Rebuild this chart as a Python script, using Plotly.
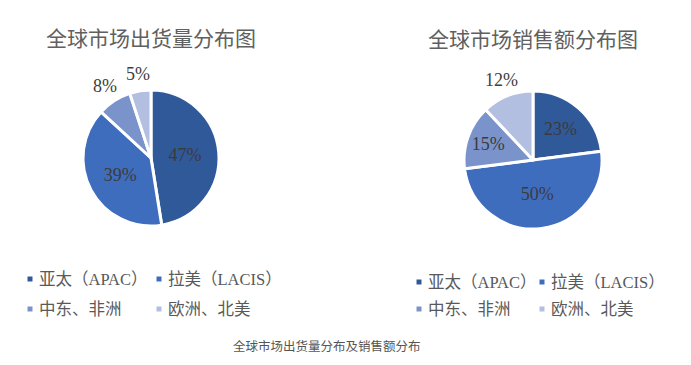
import math
import plotly.graph_objects as go

# page body has an 8px default margin, so the figure is drawn at (8, 8)
OFF = 8
W, H = 691 - OFF, 365 - OFF

categories = ["亚太（APAC）", "拉美（LACIS）", "中东、非洲", "欧洲、北美"]
shipment_share = [47, 39, 8, 5]
sales_share = [23, 50, 15, 12]
colors = ["#30599A", "#3F6DBE", "#7A93CB", "#B2BFE1"]
title_left = "全球市场出货量分布图"
title_right = "全球市场销售额分布图"
caption = "全球市场出货量分布及销售额分布"

SERIF = "Liberation Serif, Noto Sans CJK SC, serif"
CJK = "Noto Sans CJK SC, sans-serif"


def px(x):
    return (x - OFF) / W


def py(y):
    return 1 - (y - OFF) / H


def pie_domain(cx, cy, r):
    return dict(x=[px(cx - r), px(cx + r)], y=[py(cy + r), py(cy - r)])


pies = [
    dict(values=shipment_share, cx=151, cy=158, r=68,
         pos=["inside", "inside", "none", "none"]),
    dict(values=sales_share, cx=533, cy=160, r=69,
         pos=["inside", "inside", "inside", "none"]),
]

fig = go.Figure()
annotations = []
shapes = []

for p in pies:
    fig.add_trace(go.Pie(
        labels=categories, values=p["values"],
        domain=pie_domain(p["cx"], p["cy"], p["r"]),
        sort=False, direction="clockwise", rotation=0,
        marker=dict(colors=colors, line=dict(color="white", width=3)),
        texttemplate="%{value}%",
        textposition=p["pos"],
        insidetextorientation="horizontal",
        insidetextfont=dict(family=SERIF, size=18, color="#3B3B3B"),
        showlegend=False, hoverinfo="skip",
    ))
    # outside labels for the small slices, placed at each slice's mid-angle
    total = sum(p["values"])
    cum = 0
    for v, pos in zip(p["values"], p["pos"]):
        mid = (cum + v / 2) / total * 2 * math.pi
        cum += v
        if pos != "none":
            continue
        R = p["r"] + 17
        lx = p["cx"] + R * math.sin(mid)
        ly = p["cy"] - R * math.cos(mid)
        annotations.append(dict(text=f"{v}%", x=px(lx), y=py(ly), xref="paper", yref="paper",
                                showarrow=False, xanchor="center", yanchor="middle",
                                font=dict(family=SERIF, size=18, color="#404040")))

# titles
annotations.append(dict(text=title_left, x=px(151), y=py(37), xref="paper", yref="paper",
                        showarrow=False, xanchor="center", yanchor="middle",
                        font=dict(family=CJK, size=21, color="#606060")))
annotations.append(dict(text=title_right, x=px(533), y=py(38), xref="paper", yref="paper",
                        showarrow=False, xanchor="center", yanchor="middle",
                        font=dict(family=CJK, size=21, color="#606060")))

# legends (2x2 grids)
legend_layouts = [
    dict(cols=[30, 159], rows=[279, 309]),
    dict(cols=[419, 542], rows=[282, 309]),
]
for lay in legend_layouts:
    for i, (cat, col) in enumerate(zip(categories, colors)):
        mx = lay["cols"][i % 2]
        my = lay["rows"][i // 2]
        s = 2.5
        shapes.append(dict(type="rect", xref="paper", yref="paper",
                           x0=px(mx - s), x1=px(mx + s), y0=py(my + s), y1=py(my - s),
                           fillcolor=col, line=dict(width=0)))
        annotations.append(dict(text=cat, x=px(mx + 7), y=py(my), xref="paper", yref="paper",
                                showarrow=False, xanchor="left", yanchor="middle",
                                font=dict(family=SERIF, size=16.5, color="#595959")))

annotations.append(dict(text=caption, x=px(327), y=py(345), xref="paper", yref="paper",
                        showarrow=False, xanchor="center", yanchor="middle",
                        font=dict(family=CJK, size=12.5, color="#555555")))

fig.update_layout(
    width=W, height=H,
    margin=dict(l=0, r=0, t=0, b=0),
    paper_bgcolor="white", plot_bgcolor="white",
    annotations=annotations, shapes=shapes,
    showlegend=False,
)

fig.write_html("out.html")
